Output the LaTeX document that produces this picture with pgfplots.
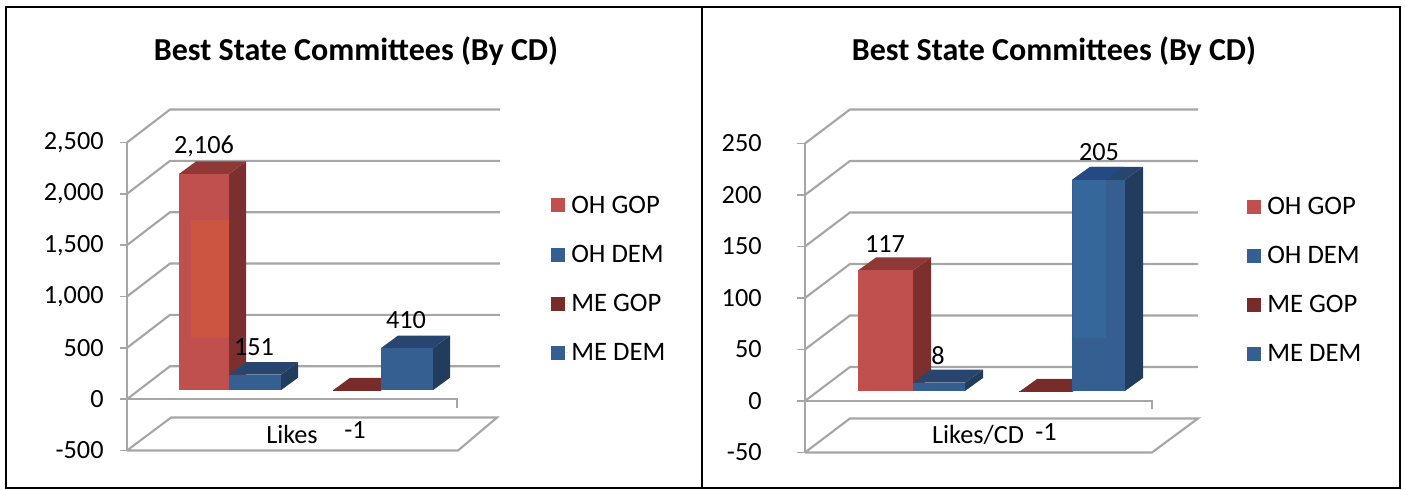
\documentclass[border=0pt]{standalone}
\usepackage{pgfplots}
\pgfplotsset{compat=1.18}
\usepackage{fontspec}
\setmainfont{Carlito}
\definecolor{gridg}{HTML}{A6A6A6}
\definecolor{redF}{HTML}{C0504D}
\definecolor{redL}{HTML}{CC5542}
\definecolor{redS}{HTML}{7C2F2F}
\definecolor{redT}{HTML}{8F3836}
\definecolor{darkT}{HTML}{772C2A}
\definecolor{bluF}{HTML}{355E91}
\definecolor{bluL}{HTML}{35679A}
\definecolor{bluS}{HTML}{213C5C}
\definecolor{bluT}{HTML}{284570}
\definecolor{bluTL}{HTML}{234A85}
% one 3-D bar: x0, x1, value, front, side, top
\newcommand{\tdbar}[6]{%
  \pgfmathsetmacro\ya{\Dbase}%
  \pgfmathsetmacro\yb{\Dbase+#3}%
  \pgfmathsetmacro\yc{\Dbase+#3+\Ddy}%
  \pgfmathsetmacro\yd{\Dbase+\Ddy}%
  \pgfmathsetmacro\xa{#1+\Ddx}%
  \pgfmathsetmacro\xb{#2+\Ddx}%
  \addplot[forget plot,fill=#5,draw=none] coordinates {(#2,\ya)(\xb,\yd)(\xb,\yc)(#2,\yb)};
  \addplot[forget plot,fill=#6,draw=none] coordinates {(#1,\yb)(#2,\yb)(\xb,\yc)(\xa,\yc)};
  \addplot[forget plot,fill=#4,draw=none] coordinates {(#1,\ya)(#2,\ya)(#2,\yb)(#1,\yb)};
}
\pgfplotsset{
  panel/.style={
    scale only axis, clip=false,
    axis x line=none, axis y line*=left,
    xtick=\empty,
    y axis line style={gridg,line width=1.6pt},
    ytick style={gridg,line width=1.3pt},
    tick align=outside, major tick length=5pt,
    tick label style={font=\fontsize{19.7}{22}\selectfont},
    yticklabel style={xshift=-9pt},
    /pgf/number format/assume math mode=true,
    /pgf/number format/1000 sep={,},
    legend image code/.code={\path[##1] (0pt,-5.25pt) rectangle (10.5pt,5.25pt);\path (10.5pt,0pt) -- (13pt,0pt);},
    legend style={draw=none,fill=none,font=\fontsize{20}{22}\selectfont,
      row sep=18.35pt,legend cell align=left,
      /tikz/every even column/.append style={column sep=0pt}},
  },
  grl/.style={forget plot,gridg,line width=1.6pt,no markers},
  leg/.style={fill=#1,draw=none},
}
\begin{document}
\begin{tikzpicture}[x=0.75pt,y=0.75pt]
\useasboundingbox (0,0) rectangle (1405,489);
\draw[black,line width=1.5pt] (5.5,1) rectangle (702,482);
\draw[black,line width=1.5pt] (702,1) rectangle (1400,482);
\node[font=\bfseries\fontsize{24}{27}\selectfont] at (356,438) {Best State Committees (By CD)};
\node[font=\bfseries\fontsize{24}{27}\selectfont] at (1054,438) {Best State Committees (By CD)};
% ---------- left panel ----------
\def\Dbase{87.5}\def\Ddx{17}\def\Ddy{121.6}
\begin{axis}[panel,at={(127,37.5)},anchor=south west,width=279.75pt,height=231pt,
  xmin=127,xmax=500,ymin=-500,ymax=2500,
  ytick={-500,0,500,1000,1500,2000,2500},
  legend style={at={(axis cs:547,2035)},anchor=north west}]
\addplot[grl] coordinates {(127,2500)(170,2821)(500,2821)};
\addplot[grl] coordinates {(127,2000)(170,2321)(500,2321)};
\addplot[grl] coordinates {(127,1500)(170,1821)(500,1821)};
\addplot[grl] coordinates {(127,1000)(170,1321)(500,1321)};
\addplot[grl] coordinates {(127,500)(170,821)(500,821)};
\addplot[grl] coordinates {(127,0)(170,321)(500,321)};
\addplot[grl] coordinates {(127,-500)(171,-179)(497,-179)(458,-500)(127,-500)};
\addplot[grl] coordinates {(127,0)(457,0)(457,-87)};
\tdbar{179}{229}{2106}{redF}{redS}{redT}
\addplot[forget plot,fill=redL,draw=none] coordinates {(191,593)(229,593)(229,1741)(191,1741)};
\tdbar{229}{281}{151}{bluF}{bluS}{bluT}
\tdbar{333}{381}{-1}{darkT}{darkT}{darkT}
\tdbar{381}{433}{410}{bluF}{bluS}{bluT}
\addlegendimage{leg=redF}\addlegendentry{OH GOP}
\addlegendimage{leg=bluF}\addlegendentry{OH DEM}
\addlegendimage{leg=darkT}\addlegendentry{ME GOP}
\addlegendimage{leg=bluF}\addlegendentry{ME DEM}
\node[font=\fontsize{19.7}{22}\selectfont] at (axis cs:204,{(399-146)/0.1028}) {2,106};
\node[font=\fontsize{19.7}{22}\selectfont] at (axis cs:254,{(399-347)/0.1028}) {151};
\node[font=\fontsize{19.7}{22}\selectfont] at (axis cs:406,{(399-320)/0.1028}) {410};
\node[font=\fontsize{19.7}{22}\selectfont] at (axis cs:355,{(399-430)/0.1028}) {-1};
\node[font=\fontsize{19.7}{22}\selectfont] at (axis cs:292,{(399-434)/0.1028}) {Likes};
\end{axis}
% ---------- right panel ----------
\def\Dbase{9.7}\def\Ddx{18}\def\Ddy{12.6}
\begin{axis}[panel,at={(805,35.5)},anchor=south west,width=294.75pt,height=231.75pt,
  xmin=805,xmax=1198,ymin=-50,ymax=250,major tick length=6pt,
  yticklabel style={xshift=-14pt},
  ytick={-50,0,50,100,150,200,250},
  legend style={at={(axis cs:1243,203.5)},anchor=north west}]
\addplot[grl] coordinates {(805,250)(850,283)(1198,283)};
\addplot[grl] coordinates {(805,200)(850,233)(1198,233)};
\addplot[grl] coordinates {(805,150)(850,183)(1198,183)};
\addplot[grl] coordinates {(805,100)(850,133)(1198,133)};
\addplot[grl] coordinates {(805,50)(850,83)(1198,83)};
\addplot[grl] coordinates {(805,0)(850,33)(1198,33)};
\addplot[grl] coordinates {(805,-50)(850,-17)(1198,-17)(1152,-50)(805,-50)};
\addplot[grl] coordinates {(805,0)(1152,0)(1152,-8)};
\tdbar{858}{913}{117}{redF}{redS}{redT}
\tdbar{913}{965}{8}{bluF}{bluS}{bluT}
\tdbar{1019}{1072}{-1}{darkT}{darkT}{darkT}
\tdbar{1072}{1125}{205}{bluF}{bluS}{bluT}
\addplot[forget plot,fill=bluL,draw=none] coordinates {(1073,60.7)(1106,60.7)(1106,214.7)(1073,214.7)};
\addplot[forget plot,fill=bluTL,draw=none] coordinates {(1073,214.7)(1106,214.7)(1124,227.3)(1091,227.3)};
\addlegendimage{leg=redF}\addlegendentry{OH GOP}
\addlegendimage{leg=bluF}\addlegendentry{OH DEM}
\addlegendimage{leg=darkT}\addlegendentry{ME GOP}
\addlegendimage{leg=bluF}\addlegendentry{ME DEM}
\node[font=\fontsize{19.7}{22}\selectfont] at (axis cs:885,{(400-243)/1.028}) {117};
\node[font=\fontsize{19.7}{22}\selectfont] at (axis cs:938,{(400-355)/1.028}) {8};
\node[font=\fontsize{19.7}{22}\selectfont] at (axis cs:1099,{(400-152)/1.028}) {205};
\node[font=\fontsize{19.7}{22}\selectfont] at (axis cs:1046,{(400-431)/1.028}) {-1};
\node[font=\fontsize{19.7}{22}\selectfont] at (axis cs:978,{(400-434)/1.028}) {Likes/CD};
\end{axis}
\end{tikzpicture}
\end{document}
